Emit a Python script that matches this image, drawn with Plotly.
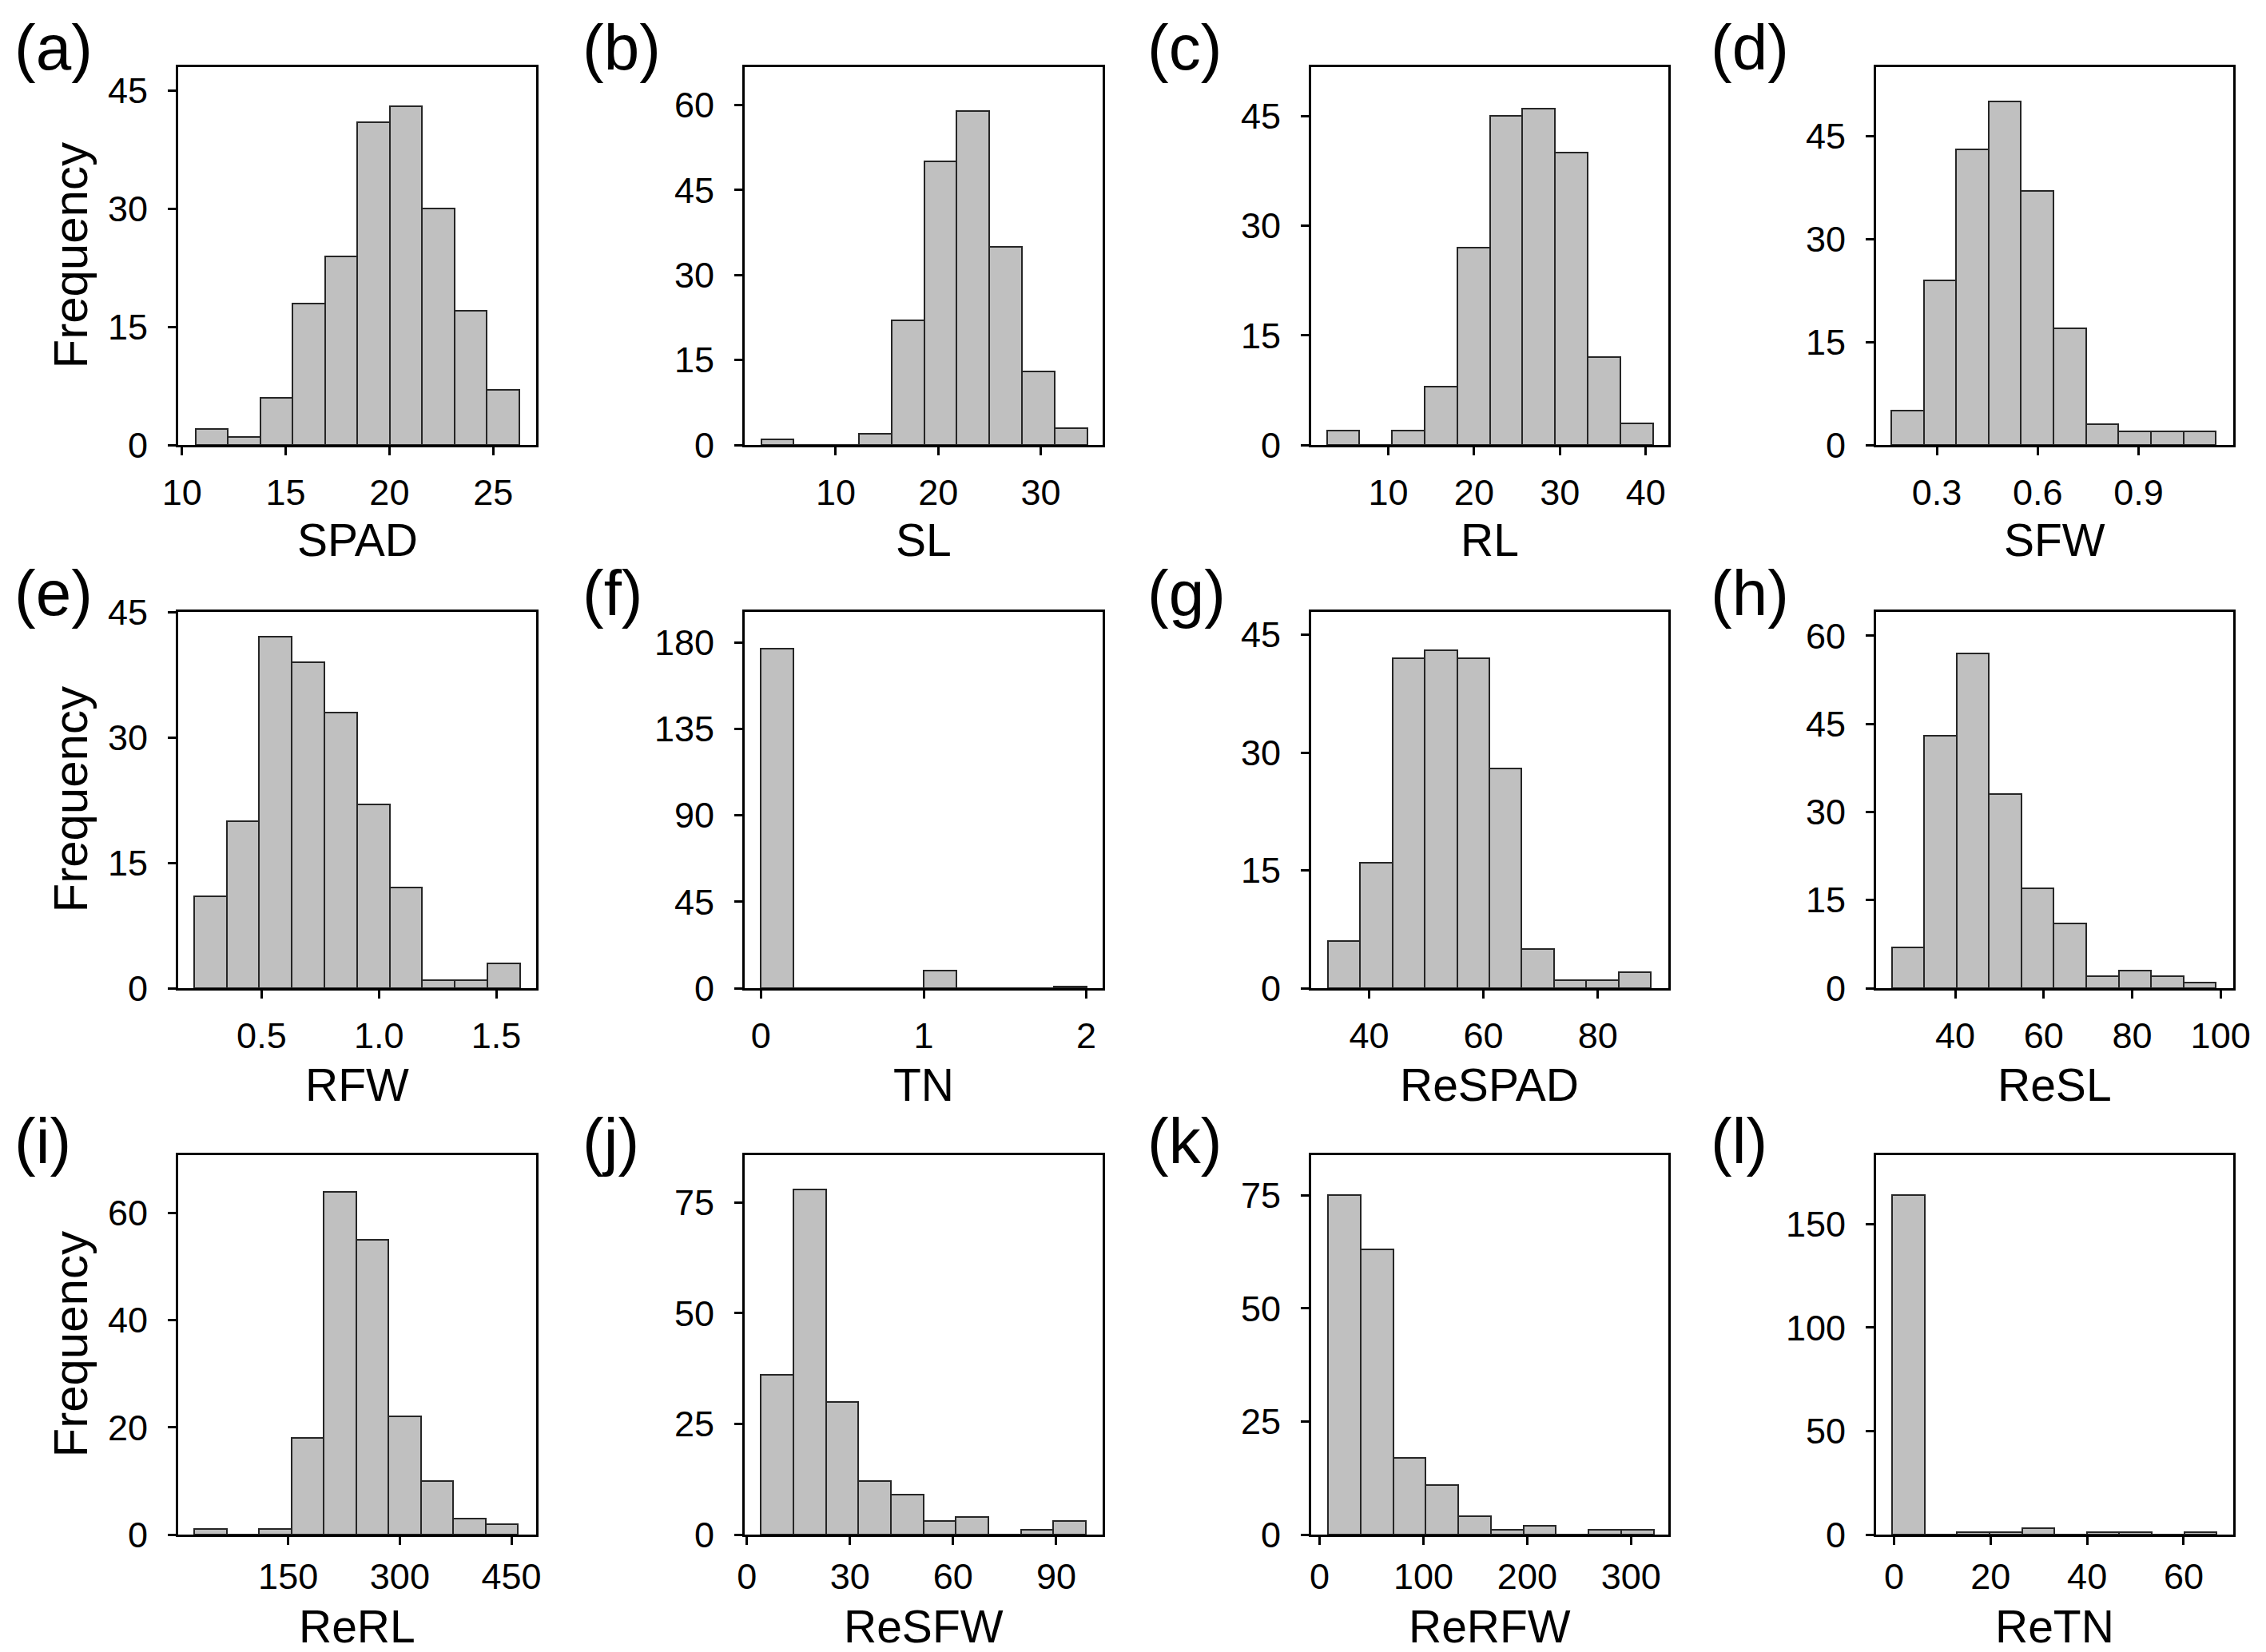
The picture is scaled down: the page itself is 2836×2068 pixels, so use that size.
import plotly.graph_objects as go

# ---------------- data (histogram counts) ----------------
variables = ["SPAD", "SL", "RL", "SFW", "RFW", "TN",
             "ReSPAD", "ReSL", "ReRL", "ReSFW", "ReRFW", "ReTN"]
panel_letters = ["(a)", "(b)", "(c)", "(d)", "(e)", "(f)",
                 "(g)", "(h)", "(i)", "(j)", "(k)", "(l)"]

# first bin edge and bin width of each histogram
bin_start = [10.65, 2.72, 2.84, 0.164, 0.2125, 0.0,
             32.78, 25.62, 24.1, 4.12, 8.09, -0.37]
bin_width = [1.56, 3.18, 3.80, 0.0966, 0.1388, 0.2,
             5.65, 7.33, 43.47, 9.45, 31.37, 6.72]

counts_SPAD = [2, 1, 6, 18, 24, 41, 43, 30, 17, 7]
counts_SL = [1, 0, 0, 2, 22, 50, 59, 35, 13, 3]
counts_RL = [2, 0, 2, 8, 27, 45, 46, 40, 12, 3]
counts_SFW = [5, 24, 43, 50, 37, 17, 3, 2, 2, 2]
counts_RFW = [11, 20, 42, 39, 33, 22, 12, 1, 1, 3]
counts_TN = [177, 0, 0, 0, 0, 9, 0, 0, 0, 1]
counts_ReSPAD = [6, 16, 42, 43, 42, 28, 5, 1, 1, 2]
counts_ReSL = [7, 43, 57, 33, 17, 11, 2, 3, 2, 1]
counts_ReRL = [1, 0, 1, 18, 64, 55, 22, 10, 3, 2]
counts_ReSFW = [36, 78, 30, 12, 9, 3, 4, 0, 1, 3]
counts_ReRFW = [75, 63, 17, 11, 4, 1, 2, 0, 1, 1]
counts_ReTN = [164, 0, 1, 1, 3, 0, 1, 1, 0, 1]

all_counts = [counts_SPAD, counts_SL, counts_RL, counts_SFW, counts_RFW, counts_TN,
              counts_ReSPAD, counts_ReSL, counts_ReRL, counts_ReSFW, counts_ReRFW, counts_ReTN]

# tick values / labels
x_tickvals = [[10, 15, 20, 25], [10, 20, 30], [10, 20, 30, 40], [0.3, 0.6, 0.9],
              [0.5, 1.0, 1.5], [0, 1, 2], [40, 60, 80], [40, 60, 80, 100],
              [150, 300, 450], [0, 30, 60, 90], [0, 100, 200, 300], [0, 20, 40, 60]]
x_ticktext = [["10", "15", "20", "25"], ["10", "20", "30"], ["10", "20", "30", "40"],
              ["0.3", "0.6", "0.9"], ["0.5", "1.0", "1.5"], ["0", "1", "2"],
              ["40", "60", "80"], ["40", "60", "80", "100"], ["150", "300", "450"],
              ["0", "30", "60", "90"], ["0", "100", "200", "300"], ["0", "20", "40", "60"]]
y_tickvals = [[0, 15, 30, 45], [0, 15, 30, 45, 60], [0, 15, 30, 45], [0, 15, 30, 45],
              [0, 15, 30, 45], [0, 45, 90, 135, 180], [0, 15, 30, 45], [0, 15, 30, 45, 60],
              [0, 20, 40, 60], [0, 25, 50, 75], [0, 25, 50, 75], [0, 50, 100, 150]]

# ---------------- layout constants ----------------
W, H = 2836, 2068
x_ranges = [[9.82, 27.07], [1.12, 36.04], [1.02, 42.63], [0.119, 1.182],
            [0.1445, 1.670], [-0.1, 2.1], [29.86, 92.35], [22.09, 102.86],
            [2.2, 483.2], [-0.63, 103.5], [-8.09, 335.9], [-3.73, 70.27]]
y_ranges = [[0, 48.0], [0, 66.7], [0, 51.7], [0, 55.0],
            [0, 45.0], [0, 196], [0, 47.9], [0, 64.06],
            [0, 70.8], [0, 85.7], [0, 83.9], [0, 183.3]]

col_px = [(223, 671), (932, 1380), (1641, 2088), (2348, 2795)]
row_px = [(84, 557), (766, 1237), (1446, 1921)]
label_x_px = [16, 727, 1434, 2139]
label_y_px = [60, 743, 1428]
xtitle_y_px = [676, 1358, 2036]
x_standoff = [8, 8, 1]

FONT = "Arial, Liberation Sans, sans-serif"
TICK_FS = 45
TITLE_FS = 57
FREQ_FS = 60
LABEL_FS = 80
BAR_FILL = "#c0c0c0"
BAR_LINE = "#262626"

fig = go.Figure()
annotations = []

for i, var in enumerate(variables):
    r, c = divmod(i, 4)
    ax = "" if i == 0 else str(i + 1)
    xa, ya = "x" + ax, "y" + ax
    counts = all_counts[i]
    centers = [bin_start[i] + bin_width[i] * (k + 0.5) for k in range(len(counts))]
    fig.add_trace(go.Bar(
        x=centers, y=counts, width=[bin_width[i]] * len(counts),
        marker=dict(color=BAR_FILL, line=dict(color=BAR_LINE, width=2)),
        xaxis=xa, yaxis=ya, showlegend=False, hoverinfo="x+y",
    ))
    x0, x1 = col_px[c]
    y0, y1 = row_px[r]
    common = dict(showgrid=False, zeroline=False, showline=True, linecolor="black",
                  linewidth=3, mirror=True, ticks="outside", ticklen=10, tickwidth=2.5,
                  tickcolor="black", automargin=False,
                  tickfont=dict(family=FONT, size=TICK_FS, color="black"))
    fig.layout["xaxis" + ax] = dict(
        domain=[x0 / W, x1 / W], range=x_ranges[i], anchor=ya,
        tickmode="array", tickvals=x_tickvals[i], ticktext=x_ticktext[i],
        ticklabelstandoff=x_standoff[r], **common)
    fig.layout["yaxis" + ax] = dict(
        domain=[1 - y1 / H, 1 - y0 / H], range=y_ranges[i], anchor=xa,
        tickmode="array", tickvals=y_tickvals[i], ticklabelstandoff=16, **common)

    # panel letter
    annotations.append(dict(text=panel_letters[i], xref="paper", yref="paper",
                            x=label_x_px[c] / W, y=1 - label_y_px[r] / H,
                            xanchor="left", yanchor="middle", showarrow=False,
                            font=dict(family=FONT, size=LABEL_FS, color="black")))
    # x-axis title
    annotations.append(dict(text=var, xref="paper", yref="paper",
                            x=(x0 + x1) / 2 / W, y=1 - xtitle_y_px[r] / H,
                            xanchor="center", yanchor="middle", showarrow=False,
                            font=dict(family=FONT, size=TITLE_FS, color="black")))
    if c == 0:
        annotations.append(dict(text="Frequency", xref="paper", yref="paper",
                                x=88 / W, y=1 - (y0 + y1) / 2 / H, textangle=-90,
                                xanchor="center", yanchor="middle", showarrow=False,
                                font=dict(family=FONT, size=FREQ_FS, color="black")))

fig.update_layout(width=W, height=H, margin=dict(l=0, r=0, t=0, b=0, autoexpand=False),
                  paper_bgcolor="white", plot_bgcolor="white",
                  bargap=0, annotations=annotations,
                  font=dict(family=FONT, color="black"))

fig.write_html("out.html")
